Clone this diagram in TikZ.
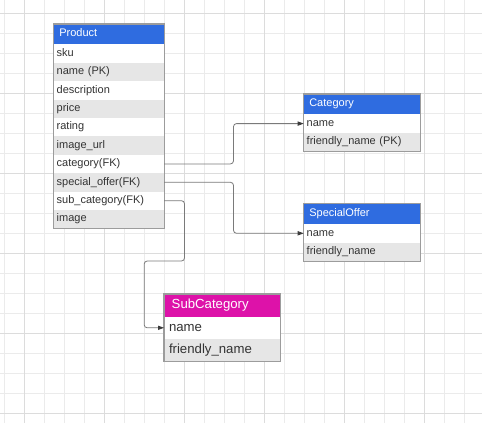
\documentclass[tikz,border=0pt]{standalone}
\usepackage{fontspec}
\setmainfont{Liberation Sans}
\usetikzlibrary{arrows.meta}
\definecolor{hdrblue}{HTML}{2F6CE0}
\definecolor{hdrmag}{HTML}{DD12A9}
\definecolor{rowgray}{HTML}{E6E6E6}
\definecolor{txtgray}{HTML}{333333}
\definecolor{bordgray}{HTML}{9C9C9C}
\definecolor{minorgrid}{HTML}{EBEBEB}
\definecolor{majorgrid}{HTML}{DCDCDC}
\definecolor{linegray}{HTML}{7A7A7A}
\definecolor{tipgray}{HTML}{3C3C3C}
\tikzset{
  cell/.style={rectangle, anchor=north west, inner ysep=0pt, outer sep=0pt, align=left,
    text height=8pt, text depth=2.5pt, font=\fontsize{11}{13}\selectfont},
  pcell/.style={cell, minimum width=110.5pt, text width=104.5pt, inner xsep=3pt, minimum height=18.4pt, text=txtgray},
  ccell/.style={cell, minimum width=116.6pt, text width=110.6pt, inner xsep=3pt, minimum height=18.6pt, text=txtgray},
  scell/.style={cell, minimum width=116.3pt, text width=106.3pt, inner xsep=5pt, minimum height=22.2pt, text=txtgray,
    text height=9.6pt, text depth=3pt, font=\fontsize{13.2}{15}\selectfont},
  phead/.style={cell, minimum width=110.5pt, text width=99.3pt, inner xsep=5.6pt, minimum height=20.3pt, fill=hdrblue, text=white},
  chead/.style={cell, minimum width=116.6pt, text width=105.4pt, inner xsep=5.6pt, minimum height=20.3pt, fill=hdrblue, text=white},
  shead/.style={cell, minimum width=116.3pt, text width=100.9pt, inner xsep=7.7pt, minimum height=22.7pt, fill=hdrmag, text=white,
    text height=9.6pt, text depth=3pt, font=\fontsize{13.2}{15}\selectfont},
  odd/.style={fill=white},
  even/.style={fill=rowgray},
  frame/.style={draw=bordgray, line width=1.2pt},
  conn/.style={draw=linegray, line width=0.8pt, rounded corners=3pt,
    -{Triangle[length=6pt, width=4.2pt, fill=tipgray, color=tipgray]}}
}
\begin{document}
\begin{tikzpicture}[x=1pt,y=1pt]
\useasboundingbox (0,0) rectangle (482,-423);
\fill[white] (0,0) rectangle (482,-423);
% grid
\foreach \gx in {4,24,...,484} {\draw[minorgrid, line width=0.8pt] (\gx,0) -- (\gx,-423);}
\foreach \gy in {13,33,...,433} {\draw[minorgrid, line width=0.8pt] (0,-\gy) -- (482,-\gy);}
\foreach \gx in {24,104,...,484} {\draw[majorgrid, line width=1pt] (\gx,0) -- (\gx,-423);}
\foreach \gy in {13,93,...,433} {\draw[majorgrid, line width=1pt] (0,-\gy) -- (482,-\gy);}

% Product
\node[phead] (ph) at (53.7,-24) {Product};
\node[pcell, odd]  (p1)  at (ph.south west) {sku};
\node[pcell, even] (p2)  at (p1.south west) {name (PK)};
\node[pcell, odd]  (p3)  at (p2.south west) {description};
\node[pcell, even] (p4)  at (p3.south west) {price};
\node[pcell, odd]  (p5)  at (p4.south west) {rating};
\node[pcell, even] (p6)  at (p5.south west) {image\_url};
\node[pcell, odd]  (p7)  at (p6.south west) {category(FK)};
\node[pcell, even] (p8)  at (p7.south west) {special\_offer(FK)};
\node[pcell, odd]  (p9)  at (p8.south west) {sub\_category(FK)};
\node[pcell, even] (p10) at (p9.south west) {image};
\draw[frame] (ph.north west) rectangle (p10.south east);

% Category
\node[chead] (ch) at (303.7,-94) {Category};
\node[ccell, odd]  (c1) at (ch.south west) {name};
\node[ccell, even] (c2) at (c1.south west) {friendly\_name (PK)};
\draw[frame] (ch.north west) rectangle (c2.south east);

% SpecialOffer
\node[chead] (oh) at (303.7,-203.7) {SpecialOffer};
\node[ccell, odd]  (o1) at (oh.south west) {name};
\node[ccell, even] (o2) at (o1.south west) {friendly\_name};
\draw[frame] (oh.north west) rectangle (o2.south east);

% SubCategory
\node[shead] (sh) at (164,-294) {SubCategory};
\node[scell, odd]  (s1) at (sh.south west) {name};
\node[scell, even] (s2) at (s1.south west) {friendly\_name};
\draw[frame] (sh.north west) rectangle (s2.south east);

% connectors
\draw[conn] (p7.east) -- ++(69.3,0) |- (c1.west);
\draw[conn] (p8.east) -- ++(69.3,0) |- (o1.west);
\draw[conn] (p9.east) -- ++(20.3,0) -- ++(0,-60.3) -- ++(-40.3,0) |- (s1.west);
\end{tikzpicture}
\end{document}
